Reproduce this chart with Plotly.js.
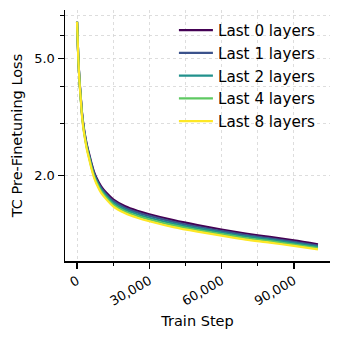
<!DOCTYPE html>
<html><head><meta charset="utf-8">
<script src="https://cdn.plot.ly/plotly-3.0.1.min.js"></script>
<style>html,body{margin:0;padding:0;background:#fff}</style>
</head><body><div id="chart" style="width:340px;height:340px"></div>
<script>
const steps = [0, 500, 1000, 1500, 2000, 2500, 3000, 4000, 5000, 6000, 7000, 8000, 10000, 12000, 15000, 20000, 25000, 30000, 40000, 50000, 60000, 70000, 80000, 90000, 100000];
const last0 = [6.66, 5.10, 4.25, 3.75, 3.31, 3.04, 2.84, 2.56, 2.37, 2.20, 2.06, 1.969, 1.837, 1.753, 1.660, 1.572, 1.518, 1.477, 1.410, 1.356, 1.310, 1.270, 1.236, 1.203, 1.166];
const last1 = [6.66, 5.085, 4.230, 3.728, 3.288, 3.017, 2.818, 2.538, 2.347, 2.177, 2.038, 1.946, 1.814, 1.731, 1.638, 1.551, 1.498, 1.457, 1.391, 1.339, 1.295, 1.255, 1.223, 1.190, 1.155];
const last2 = [6.66, 5.070, 4.209, 3.707, 3.265, 2.993, 2.796, 2.515, 2.324, 2.153, 2.016, 1.923, 1.791, 1.709, 1.615, 1.529, 1.477, 1.437, 1.372, 1.322, 1.280, 1.241, 1.210, 1.177, 1.144];
const last4 = [6.66, 5.056, 4.188, 3.685, 3.243, 2.969, 2.774, 2.493, 2.301, 2.130, 1.994, 1.900, 1.768, 1.687, 1.593, 1.508, 1.456, 1.417, 1.353, 1.305, 1.264, 1.226, 1.197, 1.165, 1.132];
const last8 = [6.66, 5.041, 4.168, 3.663, 3.220, 2.946, 2.752, 2.471, 2.278, 2.107, 1.972, 1.878, 1.745, 1.665, 1.570, 1.487, 1.436, 1.397, 1.334, 1.288, 1.249, 1.211, 1.183, 1.152, 1.121];
const seriesNames = ['Last 0 layers', 'Last 1 layers', 'Last 2 layers', 'Last 4 layers', 'Last 8 layers'];
const seriesValues = [last0, last1, last2, last4, last8];
const seriesColors = ['#440154', '#3b528b', '#21918c', '#5ec962', '#fde725'];
const xTickVals = [0, 30000, 60000, 90000];
const xTickText = ['0', '30,000', '60,000', '90,000'];
const xMinorVals = [15000, 45000, 75000];
const yTickVals = [2, 5];
const yTickText = ['2.0', '5.0'];
const yMinorVals = [3, 4, 6, 7];

const traces = seriesValues.map((vals, i) => ({
  type: 'scatter', mode: 'lines', x: steps, y: vals, name: seriesNames[i],
  line: {color: seriesColors[i], width: 2.2, shape: 'spline', smoothing: 0.8}, legendgroup: 'g' + i
}));

const gridCol = '#d4d4d4';
const layout = {
  width: 340, height: 340,
  margin: {l: 65, r: 10, t: 10, b: 79},
  paper_bgcolor: '#fff', plot_bgcolor: '#fff',
  font: {family: 'DejaVu Sans', color: '#000'},
  showlegend: true,
  legend: {x: 0.411, y: 0.985, xanchor: 'left', yanchor: 'top', bgcolor: 'rgba(0,0,0,0)',
    font: {size: 15.2, family: 'DejaVu Sans'}, traceorder: 'grouped', tracegroupgap: 0, itemwidth: 34},
  xaxis: {
    range: [-5000, 105000], tickmode: 'array', tickvals: xTickVals, ticktext: xTickText,
    tickangle: -30, ticks: 'outside', ticklen: 6, tickwidth: 1.5, tickcolor: '#000',
    showline: true, linecolor: '#000', linewidth: 1.5, zeroline: false,
    showgrid: true, gridcolor: gridCol, griddash: 'dot', gridwidth: 0.8,
    tickfont: {size: 13},
    minor: {tickmode: 'array', tickvals: xMinorVals, ticks: 'outside', ticklen: 3.5, tickwidth: 1,
      tickcolor: '#000', showgrid: true, gridcolor: gridCol, griddash: 'dot', gridwidth: 0.8},
    title: {text: 'Train Step', font: {size: 14.5}, standoff: 8}
  },
  yaxis: {
    type: 'log', range: [Math.log10(1.024), Math.log10(7.3)],
    tickmode: 'array', tickvals: yTickVals, ticktext: yTickText,
    ticks: 'outside', ticklen: 6, tickwidth: 1.5, tickcolor: '#000',
    showline: true, linecolor: '#000', linewidth: 1.5, zeroline: false,
    showgrid: true, gridcolor: gridCol, griddash: 'dot', gridwidth: 0.8,
    tickfont: {size: 13},
    minor: {tickmode: 'array', tickvals: yMinorVals, ticks: 'outside', ticklen: 3.5, tickwidth: 1,
      tickcolor: '#000', showgrid: true, gridcolor: gridCol, griddash: 'dot', gridwidth: 0.8},
    title: {text: 'TC Pre-Finetuning Loss', font: {size: 14.5}, standoff: 8}
  }
};
Plotly.newPlot('chart', traces, layout, {displayModeBar: false, staticPlot: true});
</script></body></html>
